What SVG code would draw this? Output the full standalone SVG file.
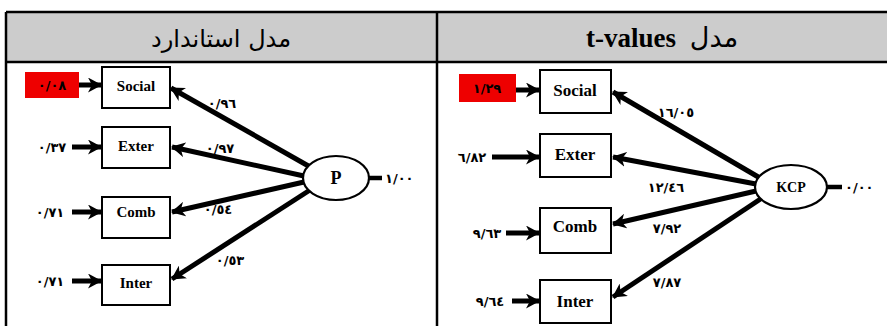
<svg xmlns="http://www.w3.org/2000/svg" width="887" height="327" viewBox="0 0 887 327">
<defs>
<marker id="ah" markerUnits="userSpaceOnUse" markerWidth="15" markerHeight="15" refX="13" refY="7.5" orient="auto">
<path d="M0,0 L14,7.5 L0,15 L4,7.5 Z" fill="#000"/>
</marker>
<style>
.grid{stroke:#000;stroke-width:2.5;fill:none}
.hdr{fill:#cccccc}
.box{fill:#fff;stroke:#000;stroke-width:2}
.ell{fill:#fff;stroke:#000;stroke-width:2.2}
.arr{stroke:#000;stroke-width:5;fill:none;marker-end:url(#ah)}
.tail{stroke:#000;stroke-width:4.5;fill:none}
.lbl{font-family:"Liberation Serif",serif;font-weight:bold;text-anchor:middle;fill:#000}
.num{font-family:"DejaVu Sans",sans-serif;font-weight:bold;font-size:13px;fill:#000}
.ht{font-family:"DejaVu Sans","Liberation Serif",serif;fill:#000}
</style>
</defs>
<g id="table">
<rect class="hdr" x="6" y="12" width="881" height="50"/>
<line class="grid" x1="6" y1="12" x2="887" y2="12"/>
<line class="grid" x1="6" y1="62" x2="887" y2="62"/>
<line class="grid" x1="6" y1="12" x2="6" y2="326"/>
<line class="grid" x1="437" y1="12" x2="437" y2="326"/>
<text class="ht" x="221" y="47" font-size="24" text-anchor="middle" direction="rtl">مدل استاندارد</text>
<text x="631" y="47" font-family="Liberation Serif,serif" font-weight="bold" font-size="27" text-anchor="middle">t-values</text>
<text class="ht" x="714" y="47" font-size="27" text-anchor="middle" direction="rtl">مدل</text>
</g>
<g id="connectors">
<line class="arr" x1="312" y1="168" x2="171" y2="88"/>
<line class="arr" x1="304" y1="176" x2="172" y2="147"/>
<line class="arr" x1="304" y1="182" x2="172" y2="212"/>
<line class="arr" x1="310" y1="190" x2="172" y2="279"/>
<line class="arr" x1="79" y1="85" x2="101" y2="85"/>
<line class="arr" x1="72" y1="147" x2="101" y2="147"/>
<line class="arr" x1="72" y1="212" x2="101" y2="212"/>
<line class="arr" x1="72" y1="281" x2="101" y2="281"/>
<line class="tail" x1="369" y1="178" x2="382" y2="178"/>
<line class="arr" x1="760" y1="178" x2="613" y2="92"/>
<line class="arr" x1="756" y1="184" x2="613" y2="157"/>
<line class="arr" x1="756" y1="191" x2="613" y2="224"/>
<line class="arr" x1="762" y1="198" x2="613" y2="297"/>
<line class="arr" x1="516" y1="90" x2="539" y2="90"/>
<line class="arr" x1="492" y1="157" x2="539" y2="157"/>
<line class="arr" x1="506" y1="233" x2="539" y2="233"/>
<line class="arr" x1="512" y1="301" x2="539" y2="301"/>
<line class="tail" x1="827" y1="187" x2="842" y2="187"/>
</g>
<g id="left-err-social"><rect x="25" y="72" width="54" height="26" fill="#ee0000"/><text class="num" x="52" y="90" text-anchor="middle">٠/٠٨</text></g>
<g id="left-social"><rect class="box" x="102" y="67" width="68" height="41"/><text class="lbl" x="136" y="91" font-size="15">Social</text></g>
<g id="left-exter"><rect class="box" x="102" y="127" width="68" height="41"/><text class="lbl" x="136" y="151" font-size="15">Exter</text></g>
<g id="left-comb"><rect class="box" x="102" y="197" width="68" height="41"/><text class="lbl" x="136" y="217" font-size="15">Comb</text></g>
<g id="left-inter"><rect class="box" x="102" y="265" width="68" height="40"/><text class="lbl" x="136" y="288" font-size="15">Inter</text></g>
<g id="left-p"><ellipse class="ell" cx="336" cy="178" rx="33" ry="22"/><text class="lbl" x="336" y="184" font-size="18">P</text></g>
<g id="left-labels">
<text class="num" x="52" y="152" text-anchor="middle">٠/٣٧</text>
<text class="num" x="50" y="217" text-anchor="middle">٠/٧١</text>
<text class="num" x="50" y="286" text-anchor="middle">٠/٧١</text>
<text class="num" x="222" y="108" text-anchor="middle">٠/٩٦</text>
<text class="num" x="220" y="153" text-anchor="middle">٠/٩٧</text>
<text class="num" x="218" y="214" text-anchor="middle">٠/٥٤</text>
<text class="num" x="230" y="265" text-anchor="middle">٠/٥٣</text>
<text class="num" x="385" y="183">١/٠٠</text>
</g>
<g id="right-err-social"><rect x="459" y="74" width="57" height="28" fill="#ee0000"/><text class="num" x="487" y="93" text-anchor="middle">١/٢٩</text></g>
<g id="right-social"><rect class="box" x="540" y="70" width="71" height="43"/><text class="lbl" x="575" y="96" font-size="17">Social</text></g>
<g id="right-exter"><rect class="box" x="540" y="134" width="71" height="43"/><text class="lbl" x="575" y="160" font-size="17">Exter</text></g>
<g id="right-comb"><rect class="box" x="540" y="208" width="71" height="45"/><text class="lbl" x="575" y="232" font-size="17">Comb</text></g>
<g id="right-inter"><rect class="box" x="540" y="280" width="71" height="43"/><text class="lbl" x="575" y="307" font-size="17">Inter</text></g>
<g id="right-kcp"><ellipse class="ell" cx="791" cy="187" rx="36" ry="22"/><text class="lbl" x="791" y="192" font-size="14">KCP</text></g>
<g id="right-labels">
<text class="num" x="472" y="162" text-anchor="middle">٦/٨٢</text>
<text class="num" x="487" y="238" text-anchor="middle">٩/٦٣</text>
<text class="num" x="490" y="306" text-anchor="middle">٩/٦٤</text>
<text class="num" x="676" y="117" text-anchor="middle">١٦/٠٥</text>
<text class="num" x="666" y="192" text-anchor="middle">١٢/٤٦</text>
<text class="num" x="667" y="233" text-anchor="middle">٧/٩٢</text>
<text class="num" x="667" y="287" text-anchor="middle">٧/٨٧</text>
<text class="num" x="845" y="192">٠/٠٠</text>
</g>
</svg>
